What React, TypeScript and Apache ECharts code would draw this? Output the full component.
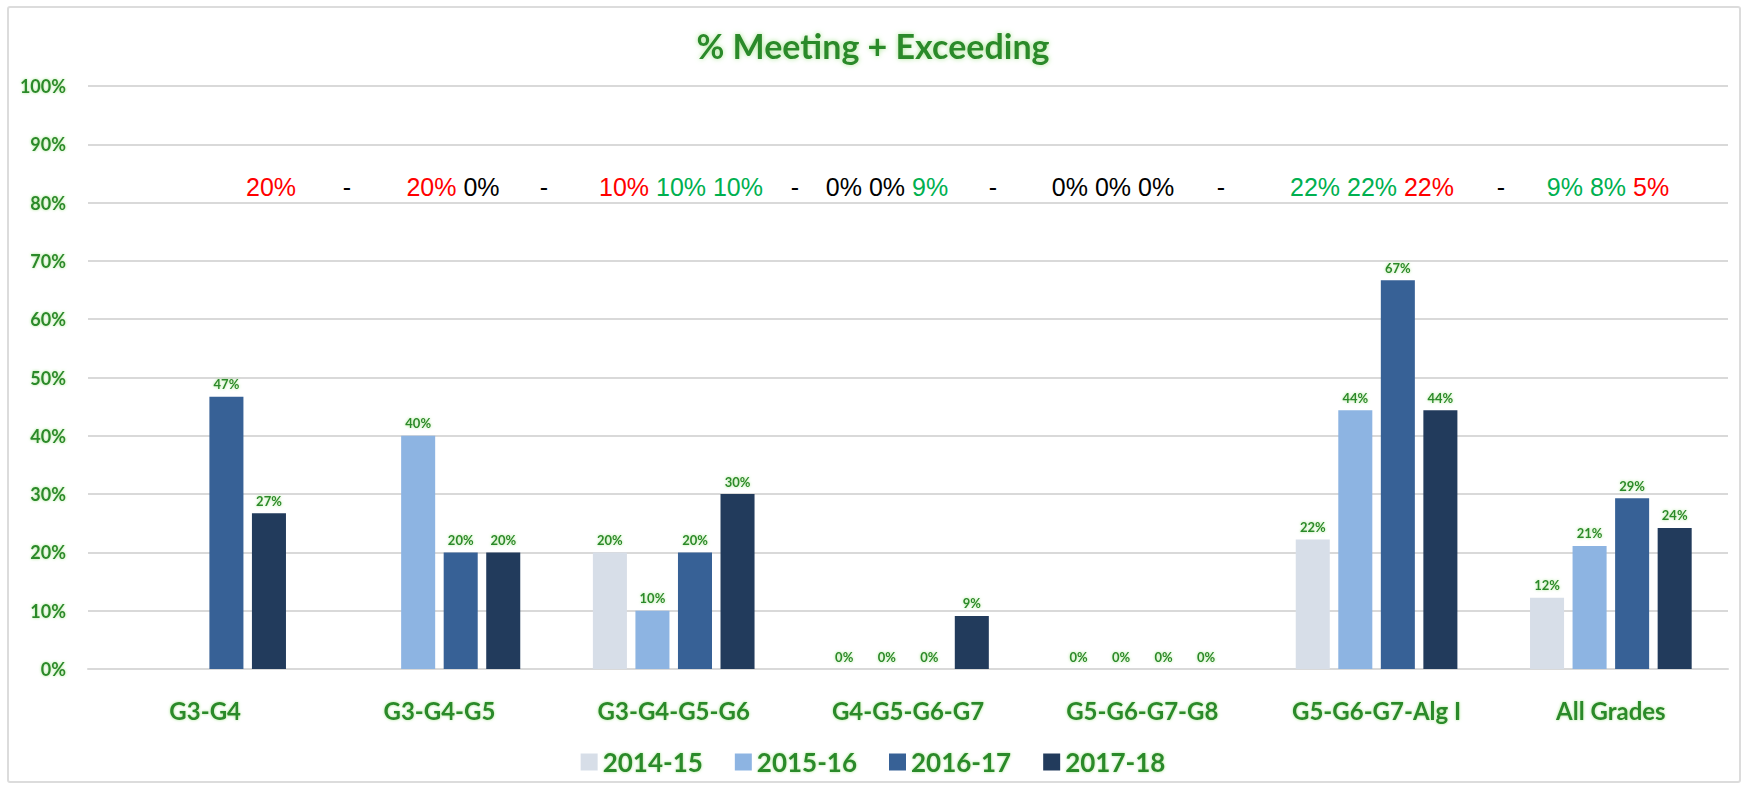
import React, { useEffect, useRef } from "react";
import * as echarts from "echarts";

// ---- data ----
const CATEGORIES = [
  "G3-G4",
  "G3-G4-G5",
  "G3-G4-G5-G6",
  "G4-G5-G6-G7",
  "G5-G6-G7-G8",
  "G5-G6-G7-Alg I",
  "All Grades",
];
const SERIES_NAMES = ["2014-15", "2015-16", "2016-17", "2017-18"];
const V_2014_15 = [null, null, 20, 0, 0, 22.2, 12.2];
const V_2015_16 = [null, 40, 10, 0, 0, 44.4, 21.1];
const V_2016_17 = [46.7, 20, 20, 0, 0, 66.7, 29.3];
const V_2017_18 = [26.7, 20, 30, 9.1, 0, 44.4, 24.2];
const Y_MIN = 0;
const Y_MAX = 100;
const Y_STEP = 10;
// year-over-year changes shown above each group
const CHANGES = [
  [-20],
  [-20, 0],
  [-10, 10, 10],
  [0, 0, 9],
  [0, 0, 0],
  [22, 22, -22],
  [9, 8, -5],
];

// ---- styles / layout ----
const COLORS = ["#D7DEE8", "#8DB4E2", "#376196", "#223B5C"];
const GREEN = "#2A8A2A";
const GLOW = "rgba(140,220,110,0.75)";
const ANNOT_X = [271, 453, 681, 887, 1113, 1372, 1608];
const DASH_X = [347, 544, 795, 993, 1221, 1501];
const ANNOT_Y = 187;
const W = 1746;
const H = 787;

export default function App() {
  const ref = useRef<HTMLDivElement>(null);
  useEffect(() => {
    if (!ref.current) return;
    const chart = echarts.init(ref.current, null, { renderer: "svg" });
    const seriesData = [V_2014_15, V_2015_16, V_2016_17, V_2017_18];

    const annot: any[] = [];
    CHANGES.forEach((arr, i) => {
      const txt = arr
        .map((v) => `{${v > 0 ? "g" : v < 0 ? "r" : "k"}|${Math.abs(v)}%}`)
        .join(" ");
      annot.push({
        type: "text",
        x: ANNOT_X[i],
        y: ANNOT_Y,
        style: {
          text: txt,
          align: "center",
          verticalAlign: "middle",
          fontFamily: "Liberation Sans",
          fontSize: 25,
          fill: "#000",
          rich: {
            g: { fill: "#00B050", fontFamily: "Liberation Sans", fontSize: 25 },
            r: { fill: "#FF0000", fontFamily: "Liberation Sans", fontSize: 25 },
            k: { fill: "#000000", fontFamily: "Liberation Sans", fontSize: 25 },
          },
        },
      });
    });
    DASH_X.forEach((x) => {
      annot.push({
        type: "text",
        x,
        y: ANNOT_Y,
        style: {
          text: "-",
          align: "center",
          verticalAlign: "middle",
          fontFamily: "Liberation Sans",
          fontSize: 25,
          fill: "#000",
        },
      });
    });

    chart.setOption({
      animation: false,
      backgroundColor: "#fff",
      title: {
        text: "% Meeting + Exceeding",
        left: "center",
        top: 23,
        textStyle: {
          fontFamily: "Lato",
          fontWeight: "bold",
          fontSize: 34,
          color: GREEN,
          textShadowColor: GLOW,
          textShadowBlur: 5,
        },
      },
      legend: {
        data: SERIES_NAMES,
        left: "center",
        top: 744,
        itemWidth: 17,
        itemHeight: 17,
        itemGap: 32,
        icon: "rect",
        textStyle: {
          fontFamily: "Lato",
          fontWeight: "bold",
          fontSize: 26,
          color: GREEN,
          textShadowColor: GLOW,
          textShadowBlur: 3,
        },
      },
      grid: { left: 88, right: 18, top: 86, bottom: 118, containLabel: false },
      xAxis: {
        type: "category",
        data: CATEGORIES,
        axisTick: { show: false },
        axisLine: { lineStyle: { color: "#D9D9D9", width: 2 } },
        axisLabel: {
          margin: 29,
          fontFamily: "Lato",
          fontWeight: "bold",
          fontSize: 24,
          color: GREEN,
          textShadowColor: GLOW,
          textShadowBlur: 3,
        },
      },
      yAxis: {
        type: "value",
        min: Y_MIN,
        max: Y_MAX,
        interval: Y_STEP,
        axisLine: { show: false },
        axisTick: { show: false },
        splitLine: { lineStyle: { color: "#D9D9D9", width: 2 } },
        axisLabel: {
          formatter: "{value}%",
          margin: 22,
          fontFamily: "Lato",
          fontWeight: "bold",
          fontSize: 18,
          color: GREEN,
          textShadowColor: GLOW,
          textShadowBlur: 3,
        },
      },
      series: SERIES_NAMES.map((name, i) => ({
        name,
        type: "bar",
        data: seriesData[i],
        barGap: "25%",
        barCategoryGap: "31%",
        itemStyle: { color: COLORS[i] },
        label: {
          show: true,
          position: "top",
          distance: 6,
          formatter: (p: any) => (p.value == null ? "" : `${Math.round(p.value)}%`),
          fontFamily: "Lato",
          fontWeight: "bold",
          fontSize: 13,
          color: GREEN,
          textShadowColor: GLOW,
          textShadowBlur: 3,
        },
      })),
      graphic: [
        {
          type: "rect",
          shape: { x: 8, y: 7, width: 1732, height: 775, r: 2 },
          style: { fill: "none", stroke: "#DCDCDC", lineWidth: 2 },
          silent: true,
          z: -1,
        },
        ...annot,
      ],
    });
    return () => chart.dispose();
  }, []);
  return (
    <div
      ref={ref}
      style={{ position: "fixed", left: 0, top: 0, width: W, height: H }}
    />
  );
}
